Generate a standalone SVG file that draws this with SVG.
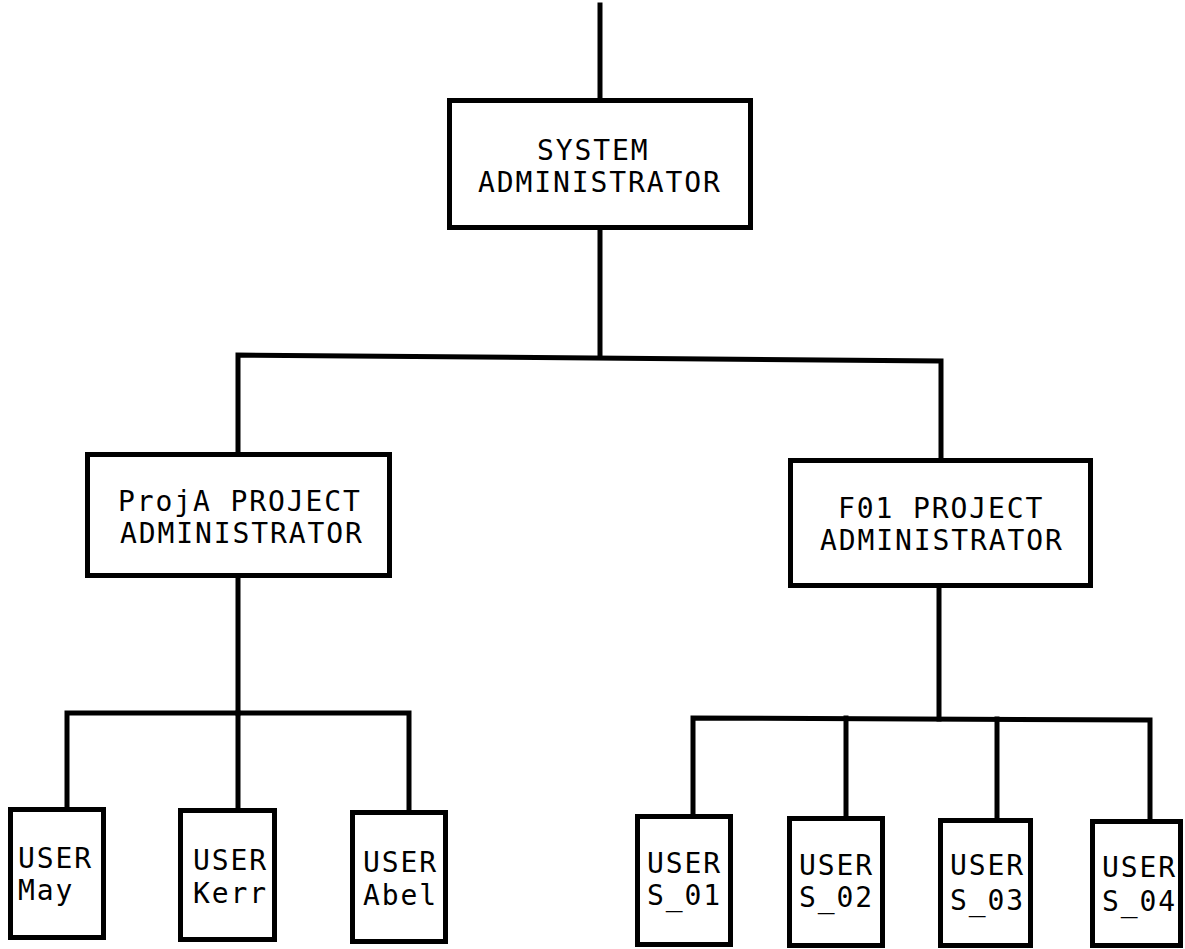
<svg xmlns="http://www.w3.org/2000/svg" width="1185" height="949" viewBox="0 0 1185 949">
<style>
.box{fill:#fff;stroke:#000;stroke-width:5}
.ln{fill:none;stroke:#000;stroke-width:5;stroke-linejoin:miter;stroke-linecap:square}
text{font-family:"DejaVu Sans Mono","Liberation Mono",monospace;font-size:28px;letter-spacing:1.9px;fill:#000}
</style>
<rect width="1185" height="949" fill="#fff"/>
<g id="connectors">
<line class="ln" x1="600" y1="5" x2="600" y2="100"/>
<line class="ln" x1="600" y1="228" x2="600" y2="356"/>
<polyline class="ln" points="238,454 238,355 941,361 941,460"/>
<line class="ln" x1="238" y1="578" x2="238" y2="713"/>
<polyline class="ln" points="67,809 67,713 409,713 409,812"/>
<line class="ln" x1="238" y1="713" x2="238" y2="810"/>
<line class="ln" x1="939" y1="588" x2="939" y2="719"/>
<polyline class="ln" points="693,816 693,718 1150,720 1150,821"/>
<line class="ln" x1="846" y1="718" x2="846" y2="818"/>
<line class="ln" x1="997" y1="719" x2="997" y2="820"/>
</g>
<g id="sysadmin">
<rect class="box" x="449.5" y="100.5" width="301" height="127"/>
<text x="537" y="160">SYSTEM</text>
<text x="478" y="192">ADMINISTRATOR</text>
</g>
<g id="proja">
<rect class="box" x="87.5" y="454.5" width="302" height="121"/>
<text x="118" y="511">ProjA PROJECT</text>
<text x="120" y="543">ADMINISTRATOR</text>
</g>
<g id="f01">
<rect class="box" x="790.5" y="460.5" width="300" height="125"/>
<text x="838" y="518">F01 PROJECT</text>
<text x="820" y="550">ADMINISTRATOR</text>
</g>
<g id="user-may">
<rect class="box" x="10.5" y="809.5" width="93" height="128"/>
<text x="18" y="868">USER</text>
<text x="18" y="900">May</text>
</g>
<g id="user-kerr">
<rect class="box" x="180.5" y="810.5" width="94" height="129"/>
<text x="193" y="870">USER</text>
<text x="193" y="903">Kerr</text>
</g>
<g id="user-abel">
<rect class="box" x="352.5" y="812.5" width="93" height="129"/>
<text x="363" y="872">USER</text>
<text x="363" y="905">Abel</text>
</g>
<g id="user-s01">
<rect class="box" x="637.5" y="816.5" width="93" height="128"/>
<text x="647" y="873">USER</text>
<text x="647" y="905">S_01</text>
</g>
<g id="user-s02">
<rect class="box" x="789.5" y="818.5" width="93" height="127"/>
<text x="799" y="875">USER</text>
<text x="799" y="907">S_02</text>
</g>
<g id="user-s03">
<rect class="box" x="940.5" y="820.5" width="90" height="125"/>
<text x="950" y="875">USER</text>
<text x="950" y="910">S_03</text>
</g>
<g id="user-s04">
<rect class="box" x="1092.5" y="821.5" width="88" height="124"/>
<text x="1102" y="877">USER</text>
<text x="1102" y="911">S_04</text>
</g>
</svg>
